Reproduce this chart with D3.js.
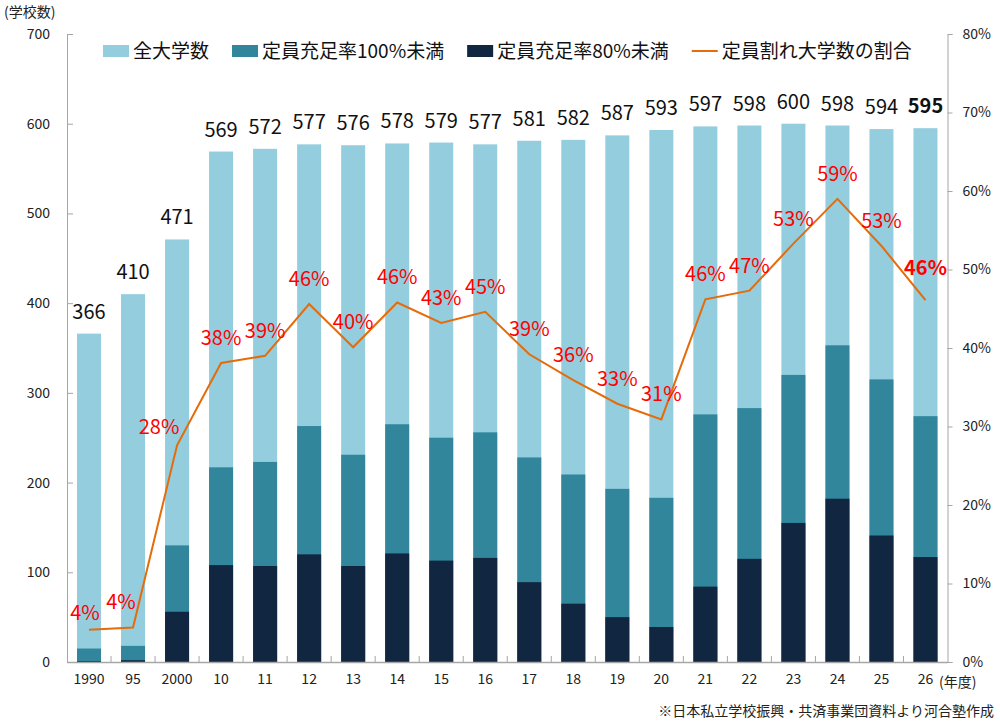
<!DOCTYPE html>
<html>
<head>
<meta charset="utf-8">
<script src="https://cdn.jsdelivr.net/npm/d3@7"></script>
<style>
  body { margin: 0; background: #fff; }
  svg { display: block; font-family: "Noto Sans CJK JP", "Noto Sans", sans-serif; }
</style>
</head>
<body>
<svg id="chart" width="1000" height="722"></svg>
<script>
// categories (年度)
const years = ["1990", "95", "2000", "10", "11", "12", "13", "14", "15", "16",
  "17", "18", "19", "20", "21", "22", "23", "24", "25", "26"];
// 全大学数
const totalSchools = [366, 410, 471, 569, 572, 577, 576, 578, 579, 577,
  581, 582, 587, 593, 597, 598, 600, 598, 594, 595];
// 定員充足率100%未満
const under100 = [15, 18, 130, 217, 223, 263, 231, 265, 250, 256,
  228, 209, 193, 183, 276, 283, 320, 353, 315, 274];
// 定員充足率80%未満
const under80 = [1, 2, 56, 108, 107, 120, 107, 121, 113, 116,
  89, 65, 50, 39, 84, 115, 155, 182, 141, 117];
// 定員割れ大学数の割合 (%)
const shortfallRate = [4.1, 4.4, 27.6, 38.1, 39.0, 45.6, 40.1, 45.8, 43.2, 44.6,
  39.2, 35.9, 32.9, 30.9, 46.2, 47.3, 53.3, 59.0, 53.0, 46.1];

const leftTicks = [0, 100, 200, 300, 400, 500, 600, 700];
const rightTicks = [0, 10, 20, 30, 40, 50, 60, 70, 80];

const colors = {
  total: "#93cdde",
  u100: "#31869c",
  u80: "#112640",
  line: "#e46c0a",
  label: "#ff0000",
  axis: "#a6a6a6",
  text: "#222"
};

const margin = { top: 34, right: 52, bottom: 60, left: 67 };
const plotW = 947.5 - margin.left, plotH = 662 - margin.top;

const svg = d3.select("#chart");
const g = svg.append("g").attr("transform", `translate(${margin.left},${margin.top})`);

const x = d3.scaleBand().domain(years).range([0, plotW]).paddingInner(0.455).paddingOuter(0.2275);
const y = d3.scaleLinear().domain([0, 700]).range([plotH, 0]);
const y2 = d3.scaleLinear().domain([0, 80]).range([plotH, 0]);

const rows = years.map((yr, i) => ({
  year: yr, total: totalSchools[i], u100: under100[i], u80: under80[i], rate: shortfallRate[i], i
}));
const isLast = d => d.i === rows.length - 1;

// bars: total, then 100%未満, then 80%未満 on top
[["total", colors.total], ["u100", colors.u100], ["u80", colors.u80]].forEach(([key, col]) => {
  g.append("g").selectAll("rect")
    .data(rows)
    .join("rect")
    .attr("x", d => x(d.year))
    .attr("width", x.bandwidth())
    .attr("y", d => y(d[key]))
    .attr("height", d => plotH - y(d[key]))
    .attr("fill", col);
});

// left axis
const leftAxis = g.append("g")
  .call(d3.axisLeft(y).tickValues(leftTicks).tickSize(-6).tickPadding(17));
leftAxis.select(".domain").attr("stroke", colors.axis);
leftAxis.selectAll(".tick line").attr("stroke", colors.axis);
leftAxis.selectAll("text").attr("font-size", 14).attr("fill", colors.text)
  .attr("font-family", "'Noto Sans CJK JP', sans-serif");

// right axis
const rightAxis = g.append("g").attr("transform", `translate(${plotW},0)`)
  .call(d3.axisRight(y2).tickValues(rightTicks).tickFormat(d => d + "%").tickSize(5).tickPadding(10));
rightAxis.select(".domain").attr("stroke", colors.axis);
rightAxis.selectAll(".tick line").attr("stroke", colors.axis);
rightAxis.selectAll("text").attr("font-size", 14).attr("fill", colors.text)
  .attr("font-family", "'Noto Sans CJK JP', sans-serif");

// bottom axis
const bottomAxis = g.append("g").attr("transform", `translate(0,${plotH})`)
  .call(d3.axisBottom(x).tickSize(0).tickPadding(12));
bottomAxis.select(".domain").attr("stroke", colors.axis).attr("stroke-width", 1.5);
bottomAxis.selectAll("text").attr("font-size", 14).attr("fill", colors.text)
  .attr("font-family", "'Noto Sans CJK JP', sans-serif");
// category separator ticks (inward)
g.append("g").selectAll("line")
  .data(years.slice(1))
  .join("line")
  .attr("x1", d => x(d) + x.bandwidth() / 2 - x.step() / 2)
  .attr("x2", d => x(d) + x.bandwidth() / 2 - x.step() / 2)
  .attr("y1", plotH)
  .attr("y2", plotH - 6)
  .attr("stroke", colors.axis);

// total labels
g.append("g").selectAll("text")
  .data(rows)
  .join("text")
  .attr("x", d => x(d.year) + x.bandwidth() / 2)
  .attr("y", d => y(d.total) - 15)
  .attr("text-anchor", "middle")
  .attr("font-size", 20)
  .attr("font-weight", d => isLast(d) ? "bold" : "normal")
  .attr("fill", "#111")
  .text(d => d.total);

// shortfall rate line
const line = d3.line()
  .x(d => x(d.year) + x.bandwidth() / 2)
  .y(d => y2(d.rate));
g.append("path")
  .datum(rows)
  .attr("d", line)
  .attr("fill", "none")
  .attr("stroke", colors.line)
  .attr("stroke-width", 2);

// rate labels
g.append("g").selectAll("text")
  .data(rows)
  .join("text")
  .attr("x", d => x(d.year) + x.bandwidth() / 2 + (d.year === "2000" ? -18 : d.year === "95" ? -12 : d.year === "1990" ? -4 : 0))
  .attr("y", d => y2(d.rate) - (d.year === "2000" ? 11 : d.year === "1990" ? 10 : isLast(d) ? 25 : 18))
  .attr("text-anchor", "middle")
  .attr("font-size", 20)
  .attr("font-weight", d => isLast(d) ? "bold" : "normal")
  .attr("fill", colors.label)
  .text(d => Math.round(d.rate) + "%");

// legend
const legendItems = [
  { name: "全大学数", type: "rect", color: colors.total },
  { name: "定員充足率100%未満", type: "rect", color: colors.u100 },
  { name: "定員充足率80%未満", type: "rect", color: colors.u80 },
  { name: "定員割れ大学数の割合", type: "line", color: colors.line }
];
const legend = svg.append("g").attr("transform", "translate(103,51)");
let lx = 0;
legendItems.forEach(item => {
  const it = legend.append("g").attr("transform", `translate(${lx},0)`);
  if (item.type === "rect") {
    it.append("rect").attr("x", 0).attr("y", -6).attr("width", 26).attr("height", 12).attr("fill", item.color);
  } else {
    it.append("line").attr("x1", 0).attr("x2", 26).attr("y1", 0).attr("y2", 0)
      .attr("stroke", item.color).attr("stroke-width", 2);
  }
  const t = it.append("text").attr("x", 30).attr("y", 7)
    .attr("font-size", 19).attr("fill", "#111").text(item.name);
  lx += 30 + t.node().getComputedTextLength() + 23;
});

// unit labels and note
svg.append("text").attr("x", 4).attr("y", 17).attr("font-size", 14).attr("fill", colors.text).text("(学校数)");
svg.append("text").attr("x", 939).attr("y", 687).attr("font-size", 14).attr("fill", colors.text).text("(年度)");
svg.append("text").attr("x", 994).attr("y", 716).attr("text-anchor", "end")
  .attr("font-size", 14).attr("fill", colors.text)
  .text("※日本私立学校振興・共済事業団資料より河合塾作成");
</script>
</body>
</html>
